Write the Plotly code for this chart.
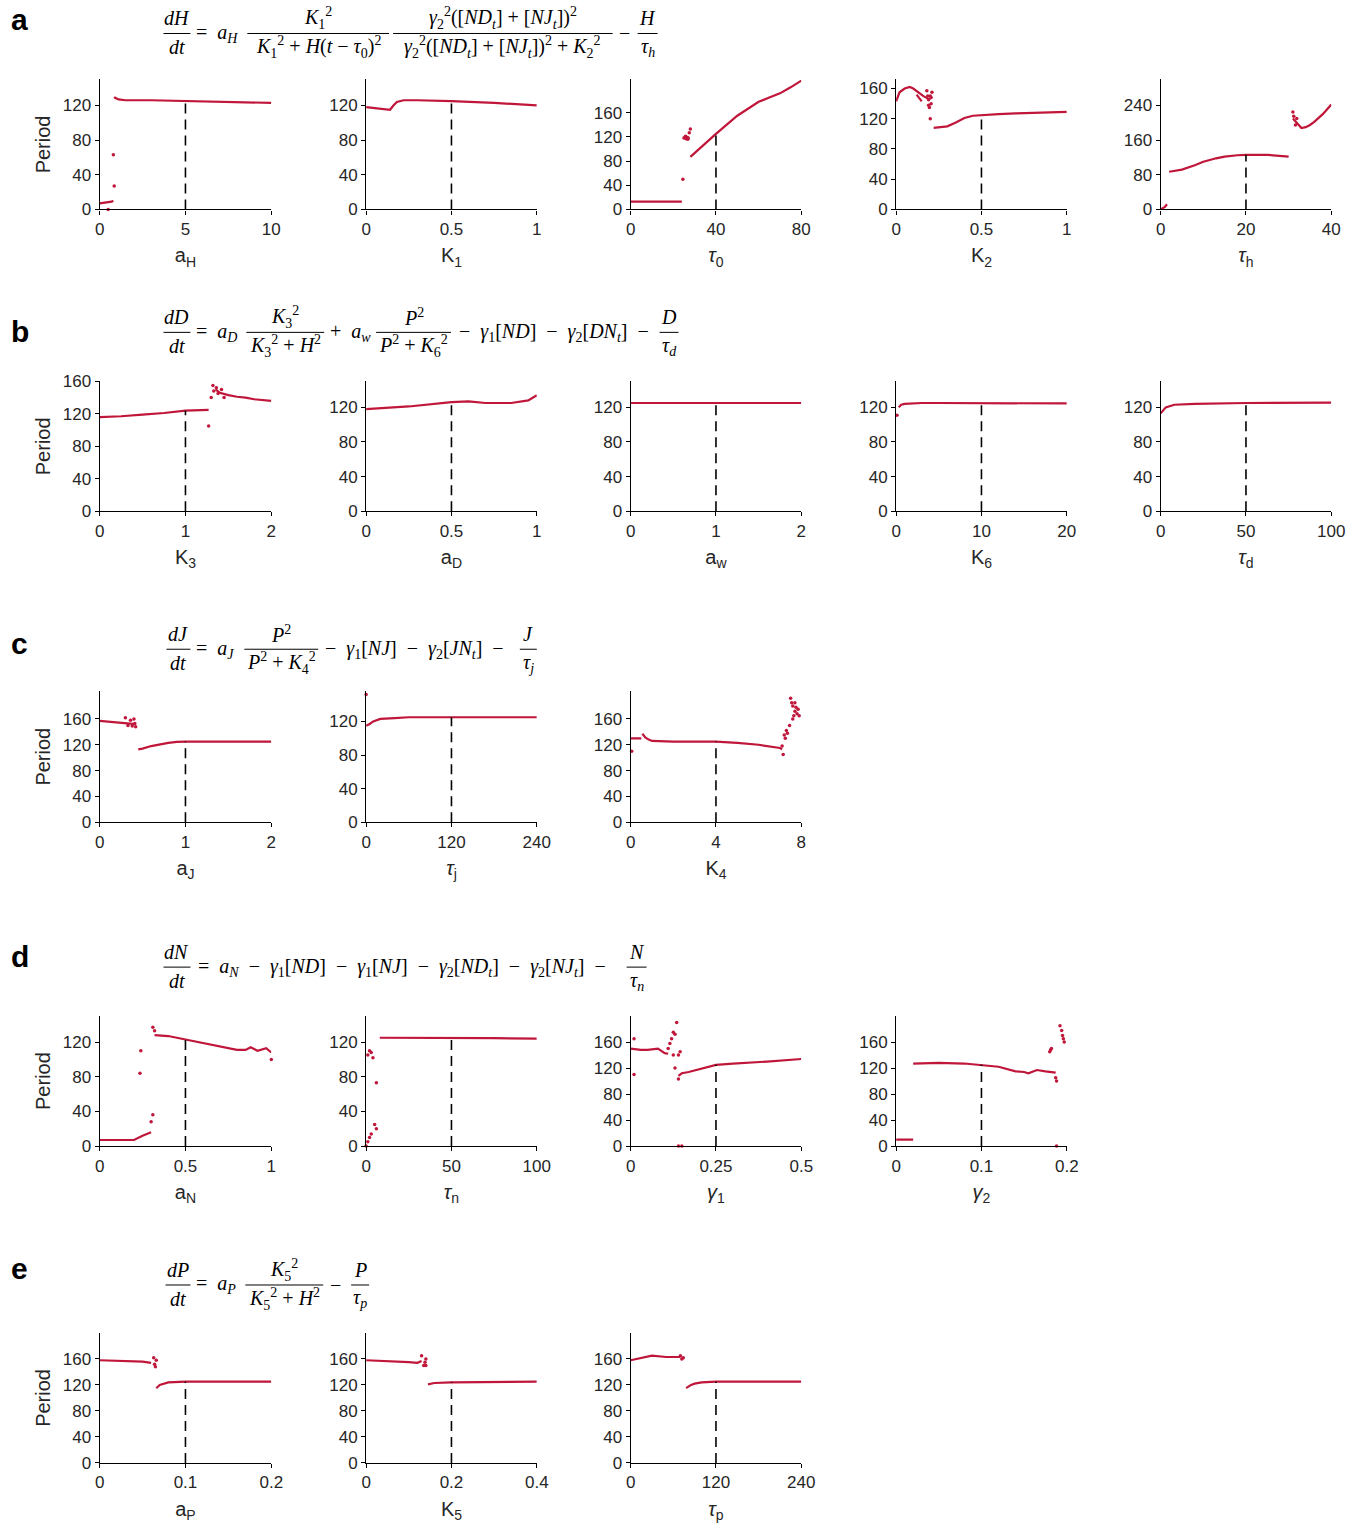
import plotly.graph_objects as go

FW, FH = 1371, 1533
SC = 0.988            # measured screen scale of the rendered page
OX, OY = 3.2, 7.5     # measured screen offset of the rendered page
RED = '#C0163A'
TXT = '#262626'

# ---------------- data ----------------
# Row a
aH_low_x = [0, 0.25, 0.5, 0.7, 0.8]
aH_low_y = [7, 7.5, 8, 9, 10]
aH_main_x = [0.85, 0.9, 1.1, 1.5, 3, 5, 7, 8.5, 10]
aH_main_y = [128, 129, 127, 126, 126, 125, 124.5, 124, 123]
aH_pts_x = [0.8, 0.85, 0.5]
aH_pts_y = [63, 27, 0]

K1_main_x = [0, 0.05, 0.1, 0.14, 0.16, 0.18, 0.22, 0.3, 0.5, 0.75, 1]
K1_main_y = [118, 117, 116, 115, 120, 124, 126, 126, 125, 123, 120]

tau0_low_x = [0, 5, 15, 24]
tau0_low_y = [13, 13, 12, 13]
tau0_main_x = [28, 32, 40, 50, 60, 65, 70, 75, 80]
tau0_main_y = [87, 100, 125, 155, 178, 185, 192, 202, 213]
tau0_pts_x = [24.5, 25, 25.5, 26, 26.5, 27, 27.5, 28, 25.8, 26.8]
tau0_pts_y = [50, 118, 120, 117, 119, 118, 127, 133, 121, 116]

K2_main_x = [0, 0.02, 0.05, 0.08, 0.1, 0.13, 0.16, 0.2]
K2_main_y = [143, 155, 160, 162, 160, 155, 150, 145]
K2_br_x = [0.12, 0.135, 0.15]
K2_br_y = [152, 147, 143]
K2_hi_x = [0.22, 0.25, 0.3, 0.35, 0.4, 0.45, 0.5, 0.6, 0.7, 0.85, 1]
K2_hi_y = [108, 109, 110, 115, 121, 124, 125, 126, 127, 128, 129]
K2_pts_x = [0.18, 0.185, 0.19, 0.195, 0.2, 0.205, 0.21, 0.19, 0.2, 0.205]
K2_pts_y = [157, 150, 138, 135, 150, 148, 155, 145, 120, 140]

tauh_low_x = [0, 0.5, 1, 1.5]
tauh_low_y = [0, 3, 6, 12]
tauh_main_x = [2, 5, 8, 10, 13, 15, 18, 20, 25, 28, 30]
tauh_main_y = [87, 92, 102, 110, 118, 122, 125, 126, 126, 124, 122]
tauh_hi_x = [31, 31.5, 32, 33, 34, 35, 36, 38, 40]
tauh_hi_y = [210, 205, 200, 188, 190, 195, 202, 220, 242]
tauh_pts_x = [31, 31.2, 31.6, 31.9]
tauh_pts_y = [225, 215, 195, 210]

# Row b
K3_main_x = [0, 0.25, 0.5, 0.75, 1, 1.2, 1.27]
K3_main_y = [116, 117, 119, 121, 124, 125, 125]
K3_hi_x = [1.35, 1.4, 1.5, 1.6, 1.7, 1.8, 2]
K3_hi_y = [150, 146, 143, 141, 140, 138, 136]
K3_pts_x = [1.27, 1.3, 1.32, 1.33, 1.36, 1.38, 1.42, 1.45]
K3_pts_y = [105, 140, 155, 148, 152, 145, 150, 140]

aD_main_x = [0, 0.25, 0.5, 0.6, 0.7, 0.85, 0.95, 1]
aD_main_y = [118, 121, 126, 127, 125, 125, 128, 134]

aw_main_x = [0, 0.5, 1, 1.5, 2]
aw_main_y = [125, 125, 125, 125, 125]

K6_main_x = [0.3, 0.6, 1, 3, 5, 10, 15, 20]
K6_main_y = [120, 123, 124, 125, 125, 125, 124.8, 124.5]
K6_pts_x = [0.1]
K6_pts_y = [111]

taud_main_x = [0, 3, 8, 20, 50, 75, 100]
taud_main_y = [113, 120, 123, 124, 125, 125, 125.5]

# Row c
aJ_lo_x = [0, 0.1, 0.2, 0.3, 0.42]
aJ_lo_y = [157, 156, 155, 154, 152]
aJ_main_x = [0.45, 0.5, 0.6, 0.7, 0.8, 0.9, 1, 1.5, 2]
aJ_main_y = [113, 114, 118, 121, 123, 124.5, 125, 125, 125]
aJ_pts_x = [0.3, 0.33, 0.36, 0.38, 0.4, 0.41, 0.42]
aJ_pts_y = [162, 150, 158, 149, 160, 153, 148]

tauj_main_x = [0, 5, 10, 20, 40, 60, 120, 180, 240]
tauj_main_y = [115, 117, 120, 123, 124, 125, 125, 125, 125]
tauj_pts_x = [0]
tauj_pts_y = [152]

K4_lo_x = [0, 0.5]
K4_lo_y = [130, 130]
K4_main_x = [0.55, 0.7, 0.85, 1, 2, 3, 4, 5, 6, 7, 7.1]
K4_main_y = [137, 131, 128, 126, 125, 125, 125, 123, 120, 115, 113]
K4_pts_x = [0.05, 7.1, 7.15, 7.2, 7.25, 7.3, 7.35, 7.45, 7.5, 7.55, 7.6, 7.65, 7.7, 7.75, 7.8, 7.85, 7.9, 7.6, 7.7]
K4_pts_y = [110, 118, 105, 135, 130, 142, 138, 150, 192, 185, 180, 165, 172, 178, 168, 175, 165, 160, 185]

# Row d
aN_lo_x = [0, 0.1, 0.2, 0.25, 0.3]
aN_lo_y = [7, 7, 7, 12, 16]
aN_main_x = [0.32, 0.4, 0.5, 0.6, 0.7, 0.8, 0.85, 0.88, 0.92, 0.97, 1]
aN_main_y = [128, 127, 123, 119, 115, 111, 111, 114, 110, 113, 108]
aN_pts_x = [0.235, 0.24, 0.3, 0.31, 0.31, 0.32, 1]
aN_pts_y = [84, 110, 28, 36, 137, 133, 100]

taun_main_x = [8, 20, 50, 75, 100]
taun_main_y = [125, 125, 125, 124.5, 124]
taun_pts_x = [0, 1, 2, 1, 2, 3, 4, 6, 5, 6, 3]
taun_pts_y = [0, 5, 10, 105, 110, 108, 102, 73, 25, 20, 14]

g1_lo_x = [0, 0.03, 0.05, 0.08, 0.1, 0.11]
g1_lo_y = [150, 148, 148, 150, 143, 142]
g1_main_x = [0.14, 0.15, 0.17, 0.2, 0.25, 0.3, 0.35, 0.4, 0.5]
g1_main_y = [108, 112, 114, 118, 125, 127, 128, 130, 134]
g1_pts_x = [0.01, 0.01, 0.11, 0.115, 0.12, 0.125, 0.13, 0.135, 0.125, 0.13, 0.14, 0.145, 0.14, 0.14, 0.15]
g1_pts_y = [165, 110, 150, 158, 165, 175, 172, 190, 140, 120, 103, 145, 140, 0, 0]

g2_lo_x = [0, 0.02]
g2_lo_y = [10, 10]
g2_main_x = [0.02, 0.05, 0.08, 0.1, 0.12, 0.14, 0.15, 0.155, 0.16, 0.165, 0.175, 0.187]
g2_main_y = [127, 128, 127, 125, 122, 115, 114, 112, 115, 117, 115, 113]
g2_pts_x = [0.187, 0.188, 0.18, 0.181, 0.182, 0.192, 0.194, 0.195, 0.197, 0.196, 0.188]
g2_pts_y = [105, 100, 145, 148, 150, 185, 178, 170, 160, 165, 0]

# Row e
aP_lo_x = [0, 0.03, 0.05, 0.06]
aP_lo_y = [158, 157, 156, 154]
aP_main_x = [0.066, 0.07, 0.08, 0.1, 0.15, 0.2]
aP_main_y = [115, 120, 124, 125, 125, 125]
aP_pts_x = [0.063, 0.065, 0.066, 0.064]
aP_pts_y = [162, 148, 158, 152]

K5_lo_x = [0, 0.05, 0.1, 0.12, 0.13]
K5_lo_y = [158, 157, 155, 154, 157]
K5_main_x = [0.145, 0.16, 0.2, 0.3, 0.4]
K5_main_y = [121, 123, 124, 125, 125]
K5_pts_x = [0.13, 0.135, 0.14, 0.14, 0.138]
K5_pts_y = [165, 150, 160, 150, 155]

taup_lo_x = [0, 10, 30, 50, 70]
taup_lo_y = [158, 160, 165, 163, 163]
taup_main_x = [78, 85, 90, 100, 120, 180, 240]
taup_main_y = [115, 120, 122, 124, 125, 125, 125]
taup_pts_x = [70, 72, 74]
taup_pts_y = [165, 160, 162]

# ---------------- layout geometry (target screen pixels) ----------------
COLX = [(98, 270), (365, 536), (630, 801), (896, 1067), (1161, 1332)]
ROWY = [(78, 208), (380, 510), (690, 821), (1015, 1145), (1332, 1462)]


def px(x):
    return ((x - OX) / SC) / FW


def py(y):
    return 1 - ((y - OY) / SC) / FH


panels = [
    (0, 0, 10, [0, 5, 10], ['0', '5', '10'], 150, [0, 40, 80, 120], 'a<sub>H</sub>', 5, 125,
     [(aH_low_x, aH_low_y), (aH_main_x, aH_main_y)], (aH_pts_x, aH_pts_y)),
    (0, 1, 1, [0, 0.5, 1], ['0', '0.5', '1'], 150, [0, 40, 80, 120], 'K<sub>1</sub>', 0.5, 125,
     [(K1_main_x, K1_main_y)], None),
    (0, 2, 80, [0, 40, 80], ['0', '40', '80'], 215, [0, 40, 80, 120, 160], '<i>τ</i><sub>0</sub>', 40, 125,
     [(tau0_low_x, tau0_low_y), (tau0_main_x, tau0_main_y)], (tau0_pts_x, tau0_pts_y)),
    (0, 3, 1, [0, 0.5, 1], ['0', '0.5', '1'], 172, [0, 40, 80, 120, 160], 'K<sub>2</sub>', 0.5, 125,
     [(K2_main_x, K2_main_y), (K2_br_x, K2_br_y), (K2_hi_x, K2_hi_y)], (K2_pts_x, K2_pts_y)),
    (0, 4, 40, [0, 20, 40], ['0', '20', '40'], 300, [0, 80, 160, 240], '<i>τ</i><sub>h</sub>', 20, 126,
     [(tauh_low_x, tauh_low_y), (tauh_main_x, tauh_main_y), (tauh_hi_x, tauh_hi_y)], (tauh_pts_x, tauh_pts_y)),

    (1, 0, 2, [0, 1, 2], ['0', '1', '2'], 160, [0, 40, 80, 120, 160], 'K<sub>3</sub>', 1, 124,
     [(K3_main_x, K3_main_y), (K3_hi_x, K3_hi_y)], (K3_pts_x, K3_pts_y)),
    (1, 1, 1, [0, 0.5, 1], ['0', '0.5', '1'], 150, [0, 40, 80, 120], 'a<sub>D</sub>', 0.5, 126,
     [(aD_main_x, aD_main_y)], None),
    (1, 2, 2, [0, 1, 2], ['0', '1', '2'], 150, [0, 40, 80, 120], 'a<sub>w</sub>', 1, 125,
     [(aw_main_x, aw_main_y)], None),
    (1, 3, 20, [0, 10, 20], ['0', '10', '20'], 150, [0, 40, 80, 120], 'K<sub>6</sub>', 10, 125,
     [(K6_main_x, K6_main_y)], (K6_pts_x, K6_pts_y)),
    (1, 4, 100, [0, 50, 100], ['0', '50', '100'], 150, [0, 40, 80, 120], '<i>τ</i><sub>d</sub>', 50, 125,
     [(taud_main_x, taud_main_y)], None),

    (2, 0, 2, [0, 1, 2], ['0', '1', '2'], 203, [0, 40, 80, 120, 160], 'a<sub>J</sub>', 1, 125,
     [(aJ_lo_x, aJ_lo_y), (aJ_main_x, aJ_main_y)], (aJ_pts_x, aJ_pts_y)),
    (2, 1, 240, [0, 120, 240], ['0', '120', '240'], 156, [0, 40, 80, 120], '<i>τ</i><sub>j</sub>', 120, 125,
     [(tauj_main_x, tauj_main_y)], (tauj_pts_x, tauj_pts_y)),
    (2, 2, 8, [0, 4, 8], ['0', '4', '8'], 203, [0, 40, 80, 120, 160], 'K<sub>4</sub>', 4, 125,
     [(K4_lo_x, K4_lo_y), (K4_main_x, K4_main_y)], (K4_pts_x, K4_pts_y)),

    (3, 0, 1, [0, 0.5, 1], ['0', '0.5', '1'], 150, [0, 40, 80, 120], 'a<sub>N</sub>', 0.5, 123,
     [(aN_lo_x, aN_lo_y), (aN_main_x, aN_main_y)], (aN_pts_x, aN_pts_y)),
    (3, 1, 100, [0, 50, 100], ['0', '50', '100'], 150, [0, 40, 80, 120], '<i>τ</i><sub>n</sub>', 50, 125,
     [(taun_main_x, taun_main_y)], (taun_pts_x, taun_pts_y)),
    (3, 2, 0.5, [0, 0.25, 0.5], ['0', '0.25', '0.5'], 200, [0, 40, 80, 120, 160], '<i>γ</i><sub>1</sub>', 0.25, 125,
     [(g1_lo_x, g1_lo_y), (g1_main_x, g1_main_y)], (g1_pts_x, g1_pts_y)),
    (3, 3, 0.2, [0, 0.1, 0.2], ['0', '0.1', '0.2'], 200, [0, 40, 80, 120, 160], '<i>γ</i><sub>2</sub>', 0.1, 125,
     [(g2_lo_x, g2_lo_y), (g2_main_x, g2_main_y)], (g2_pts_x, g2_pts_y)),

    (4, 0, 0.2, [0, 0.1, 0.2], ['0', '0.1', '0.2'], 200, [0, 40, 80, 120, 160], 'a<sub>P</sub>', 0.1, 125,
     [(aP_lo_x, aP_lo_y), (aP_main_x, aP_main_y)], (aP_pts_x, aP_pts_y)),
    (4, 1, 0.4, [0, 0.2, 0.4], ['0', '0.2', '0.4'], 200, [0, 40, 80, 120, 160], 'K<sub>5</sub>', 0.2, 124,
     [(K5_lo_x, K5_lo_y), (K5_main_x, K5_main_y)], (K5_pts_x, K5_pts_y)),
    (4, 2, 240, [0, 120, 240], ['0', '120', '240'], 200, [0, 40, 80, 120, 160], '<i>τ</i><sub>p</sub>', 120, 125,
     [(taup_lo_x, taup_lo_y), (taup_main_x, taup_main_y)], (taup_pts_x, taup_pts_y)),
]

fig = go.Figure()
shapes = []
annotations = []
layout_axes = {}
SANS = 'Liberation Sans, Arial, Helvetica'

for i, (r, c, xmax, xt, xtt, ymax, yt, xtitle, nom, nomy, lines, pts) in enumerate(panels):
    n = i + 1
    xa = 'x' if n == 1 else f'x{n}'
    ya = 'y' if n == 1 else f'y{n}'
    xk = 'xaxis' if n == 1 else f'xaxis{n}'
    yk = 'yaxis' if n == 1 else f'yaxis{n}'
    x0, x1 = COLX[c]
    y0, y1 = ROWY[r]
    layout_axes[xk] = dict(
        domain=[px(x0), px(x1)], range=[0, xmax], anchor=ya,
        tickvals=xt, ticktext=xtt, showline=True, linecolor='black', linewidth=1.2,
        ticks='outside', ticklen=4, tickcolor='black', showgrid=False, zeroline=False,
        tickfont=dict(family=SANS, size=17, color=TXT),
        title=dict(text=xtitle, font=dict(family=SANS, size=20, color=TXT), standoff=10),
    )
    ydict = dict(
        domain=[py(y1), py(y0)], range=[0, ymax], anchor=xa,
        tickvals=yt, ticktext=[str(v) for v in yt], showline=True, linecolor='black', linewidth=1.2,
        ticks='outside', ticklen=4, tickcolor='black', showgrid=False, zeroline=False,
        tickfont=dict(family=SANS, size=17, color=TXT),
    )
    if c == 0:
        ydict['title'] = dict(text='Period', font=dict(family=SANS, size=20, color=TXT), standoff=6)
    layout_axes[yk] = ydict
    for (lx, ly) in lines:
        fig.add_trace(go.Scatter(x=lx, y=ly, mode='lines', line=dict(color=RED, width=2.2),
                                 xaxis=xa, yaxis=ya, showlegend=False, hoverinfo='skip'))
    if pts is not None:
        fig.add_trace(go.Scatter(x=pts[0], y=pts[1], mode='markers', marker=dict(color=RED, size=3.5),
                                 xaxis=xa, yaxis=ya, showlegend=False, hoverinfo='skip', cliponaxis=False))
    shapes.append(dict(type='line', xref=xa, yref=ya, x0=nom, x1=nom, y0=0, y1=nomy,
                       line=dict(color='black', width=1.6, dash='10px,6px')))

# ---------------- equations ----------------
EQF = dict(family='Liberation Serif, Times New Roman, serif', size=20, color='black')
S = '\u2002'          # math spacing around inline operators
T = '\u2005'          # tighter spacing inside fractions
PL = T + '+' + T
MI = S + '−' + S
MIT = T + '−' + T
EQ = '=' + S


def text_at(html, x, y, anchor='left'):
    annotations.append(dict(text=html, x=px(x), y=py(y), xref='paper', yref='paper',
                            xanchor=anchor, yanchor='middle', showarrow=False, font=dict(EQF)))


def frac(num, den, x0, x1, yl):
    cx = (x0 + x1) / 2
    text_at(num, cx, yl - 15, 'center')
    text_at(den, cx, yl + 14, 'center')
    shapes.append(dict(type='line', xref='paper', yref='paper', x0=px(x0), x1=px(x1),
                       y0=py(yl), y1=py(yl), line=dict(color='black', width=1)))


def label(t, y):
    annotations.append(dict(text=f'<b>{t}</b>', x=px(7), y=py(y), xref='paper', yref='paper',
                            xanchor='left', yanchor='middle', showarrow=False,
                            font=dict(family=SANS, size=30, color='black')))


def K(s):
    return f'<i>K</i><sub>{s}</sub><sup>2</sup>'


def g(s):
    return f'<i>γ</i><sub>{s}</sub>'


# a
label('a', 18)
yl = 32
frac('<i>dH</i>', '<i>dt</i>', 162, 189, yl)
text_at(EQ + '<i>a</i><sub><i>H</i></sub>', 193, yl)
frac(K(1), K(1) + PL + '<i>H</i>(<i>t</i>' + MIT + '<i>τ</i><sub>0</sub>)<sup>2</sup>', 246, 388, yl)
frac(g(2) + '<sup>2</sup>([<i>ND</i><sub><i>t</i></sub>]' + PL + '[<i>NJ</i><sub><i>t</i></sub>])<sup>2</sup>',
     g(2) + '<sup>2</sup>([<i>ND</i><sub><i>t</i></sub>]' + PL + '[<i>NJ</i><sub><i>t</i></sub>])<sup>2</sup>' + PL + K(2),
     392, 612, yl)
text_at('−', 616, yl)
frac('<i>H</i>', '<i>τ</i><sub><i>h</i></sub>', 637, 657, yl)

# b
label('b', 330)
yl = 331
frac('<i>dD</i>', '<i>dt</i>', 162, 189, yl)
text_at(EQ + '<i>a</i><sub><i>D</i></sub>', 193, yl)
frac(K(3), K(3) + PL + '<i>H</i><sup>2</sup>', 245, 323, yl)
text_at('+' + S + '<i>a</i><sub><i>w</i></sub>', 327, yl)
frac('<i>P</i><sup>2</sup>', '<i>P</i><sup>2</sup>' + PL + K(6), 375, 450, yl)
text_at('−' + S + g(1) + '[<i>ND</i>]' + MI + g(2) + '[<i>DN</i><sub><i>t</i></sub>]' + S + '−', 456, yl)
frac('<i>D</i>', '<i>τ</i><sub><i>d</i></sub>', 659, 678, yl)

# c
label('c', 642)
yl = 648
frac('<i>dJ</i>', '<i>dt</i>', 165, 189, yl)
text_at(EQ + '<i>a</i><sub><i>J</i></sub>', 193, yl)
frac('<i>P</i><sup>2</sup>', '<i>P</i><sup>2</sup>' + PL + K(4), 243, 317, yl)
text_at('−' + S + g(1) + '[<i>NJ</i>]' + MI + g(2) + '[<i>JN</i><sub><i>t</i></sub>]' + S + '−', 322, yl)
frac('<i>J</i>', '<i>τ</i><sub><i>j</i></sub>', 519, 536, yl)

# d
label('d', 955)
yl = 966
frac('<i>dN</i>', '<i>dt</i>', 162, 189, yl)
text_at(EQ + '<i>a</i><sub><i>N</i></sub>' + MI + g(1) + '[<i>ND</i>]' + MI + g(1) + '[<i>NJ</i>]' + MI
        + g(2) + '[<i>ND</i><sub><i>t</i></sub>]' + MI + g(2) + '[<i>NJ</i><sub><i>t</i></sub>]' + S + '−', 195, yl)
frac('<i>N</i>', '<i>τ</i><sub><i>n</i></sub>', 626, 646, yl)

# e
label('e', 1268)
yl = 1284
frac('<i>dP</i>', '<i>dt</i>', 164, 189, yl)
text_at(EQ + '<i>a</i><sub><i>P</i></sub>', 193, yl)
frac(K(5), K(5) + PL + '<i>H</i><sup>2</sup>', 244, 322, yl)
text_at('−', 327, yl)
frac('<i>P</i>', '<i>τ</i><sub><i>p</i></sub>', 350, 368, yl)

fig.update_layout(
    width=FW, height=FH, margin=dict(l=0, r=0, t=0, b=0),
    paper_bgcolor='white', plot_bgcolor='white',
    shapes=shapes, annotations=annotations, showlegend=False,
    **layout_axes,
)

fig.write_html('out.html')
